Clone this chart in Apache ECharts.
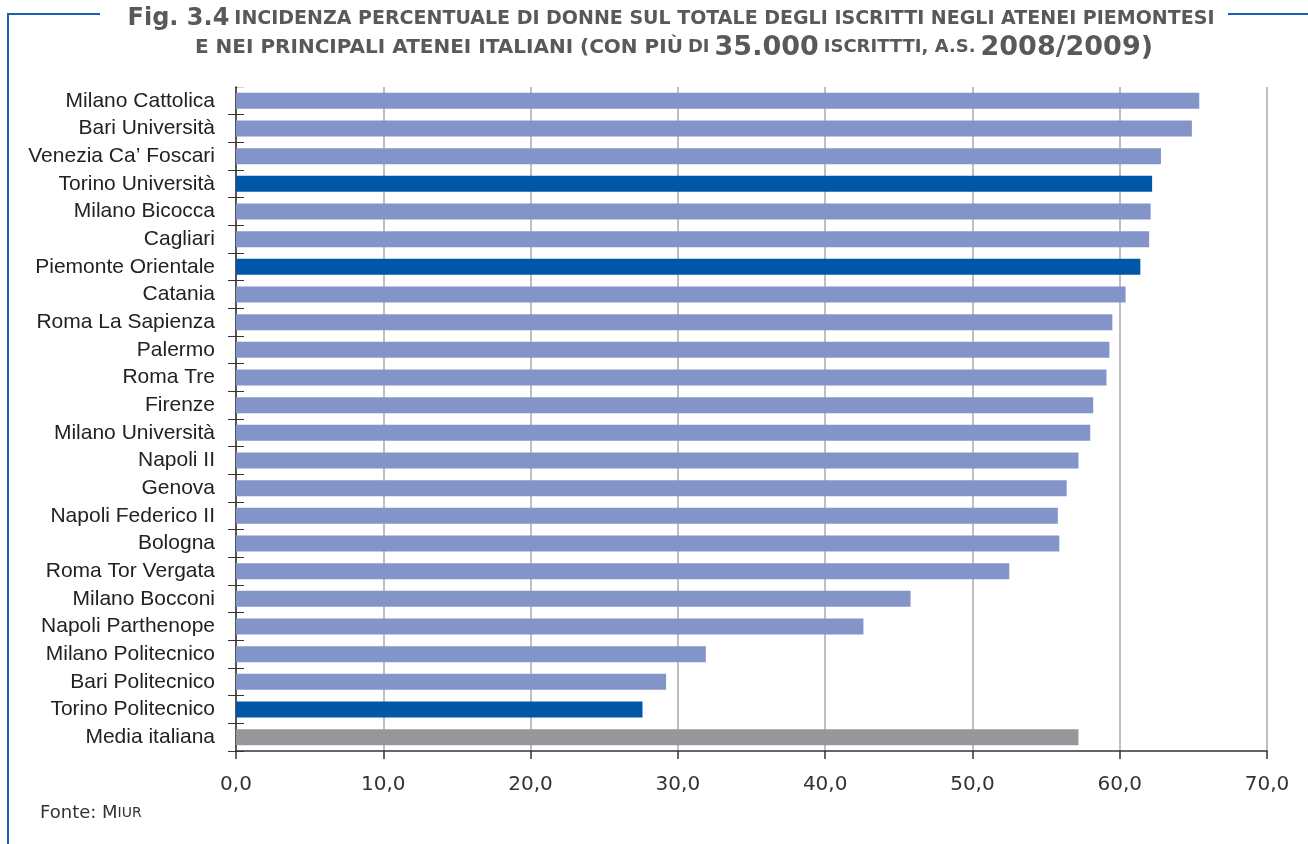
<!DOCTYPE html>
<html><head><meta charset="utf-8">
<script src="https://cdn.jsdelivr.net/npm/echarts@6/dist/echarts.min.js"></script>
<style>html,body{margin:0;padding:0;background:#fff}#c{width:1308px;height:844px}</style>
</head><body><div id="c"></div>
<script>
const categories = ["Milano Cattolica","Bari Università","Venezia Ca’ Foscari","Torino Università","Milano Bicocca","Cagliari","Piemonte Orientale","Catania","Roma La Sapienza","Palermo","Roma Tre","Firenze","Milano Università","Napoli II","Genova","Napoli Federico II","Bologna","Roma Tor Vergata","Milano Bocconi","Napoli Parthenope","Milano Politecnico","Bari Politecnico","Torino Politecnico","Media italiana"];
const values = [65.4,64.9,62.8,62.2,62.1,62.0,61.4,60.4,59.5,59.3,59.1,58.2,58.0,57.2,56.4,55.8,55.9,52.5,45.8,42.6,31.9,29.2,27.6,57.2];
const groups = ["other","other","other","piemonte","other","other","piemonte","other","other","other","other","other","other","other","other","other","other","other","other","other","other","other","piemonte","media"];
const colors = {other:"#8394c8", piemonte:"#0057a8", media:"#96979b"};
const xTicks = [0,10,20,30,40,50,60,70];

const chart = echarts.init(document.getElementById('c'));
const cat = categories.slice().reverse();
const grpR = groups.slice().reverse();
const data = values.slice().reverse().map((v,i)=>({value:v,itemStyle:{color:colors[grpR[i]]}}));
const tf = "'DejaVu Sans',sans-serif";
const tc = '#58595b';
chart.setOption({
  animation:false,
  title:[
    {left:666, textAlign:'center', top:2, text:'{a|Fig. 3.4} {b|INCIDENZA PERCENTUALE DI DONNE SUL TOTALE DEGLI ISCRITTI NEGLI ATENEI PIEMONTESI}',
     textStyle:{rich:{a:{fontFamily:tf,fontWeight:'bold',fontSize:24,color:tc},b:{fontFamily:tf,fontWeight:'bold',fontSize:19,color:tc}}}},
    {left:669, textAlign:'center', top:29, text:'{b|E NEI PRINCIPALI ATENEI ITALIANI (CON PIÙ} {c|DI} {a|35.000} {c|ISCRITTTI, A.S.} {a|2008/2009)}',
     textStyle:{rich:{a:{fontFamily:tf,fontWeight:'bold',fontSize:27,color:tc},b:{fontFamily:tf,fontWeight:'bold',fontSize:20,color:tc},c:{fontFamily:tf,fontWeight:'bold',fontSize:18,color:tc}}}}
  ],
  graphic:[
    {type:'polyline',shape:{points:[[100,14],[8,14],[8,844]]},style:{stroke:'#1c5faf',lineWidth:2,fill:null}},
    {type:'line',shape:{x1:1228,y1:14,x2:1308,y2:14},style:{stroke:'#1c5faf',lineWidth:2}},
    {type:'rect',shape:{x:222,y:84,width:13,height:6},style:{fill:'#fff'},z:100},
    {type:'rect',shape:{x:237.2,y:84,width:13,height:3.8},style:{fill:'#fff'},z:100},
    {type:'text',left:40,top:804,style:{text:'{a|Fonte: M}{b|IUR}',rich:{a:{fontSize:18,fontFamily:tf,fill:'#333'},b:{fontSize:14,fontFamily:tf,fill:'#333'}}}}
  ],
  grid:{left:236,right:41,top:87,bottom:93,containLabel:false},
  xAxis:{type:'value',min:0,max:70,interval:10,
    axisLine:{show:true,lineStyle:{color:'#333',width:1.5}},
    axisTick:{show:true,length:8,lineStyle:{color:'#333',width:1.5}},
    axisLabel:{margin:24,fontSize:20,color:'#333',fontFamily:tf,formatter:v=>v.toFixed(1).replace('.',',')},
    splitLine:{show:true,lineStyle:{color:'#aaa',width:1.5}}},
  yAxis:[
    {type:'category',data:cat,
     axisLine:{show:true,lineStyle:{color:'#333',width:1.5}},
     axisTick:{show:true,length:8,lineStyle:{color:'#333',width:1}},
     axisLabel:{margin:21,fontSize:21,color:'#222',fontFamily:"'Liberation Sans',sans-serif"}},
    {type:'category',data:cat,position:'left',offset:0,
     axisLine:{show:false},
     axisTick:{show:true,inside:true,length:8,lineStyle:{color:'#333',width:1}},
     axisLabel:{show:false}}
  ],
  series:[{type:'bar',data:data,barWidth:16,yAxisIndex:0}]
});
</script></body></html>
